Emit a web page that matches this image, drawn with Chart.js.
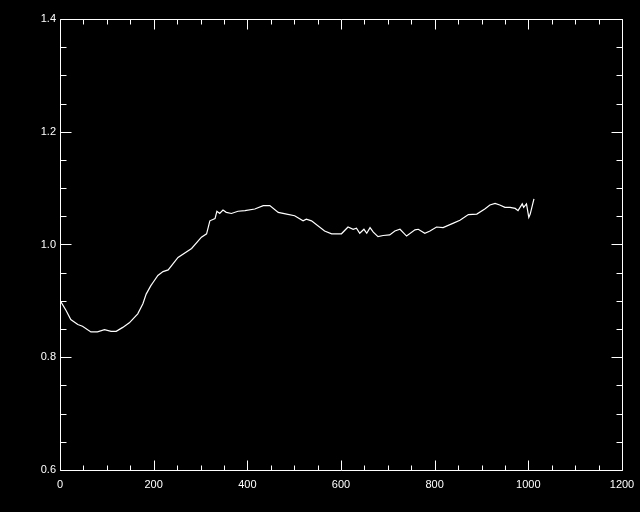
<!DOCTYPE html>
<html>
<head>
<meta charset="utf-8">
<script src="https://cdn.jsdelivr.net/npm/chart.js@4"></script>
<style>
  html, body { margin: 0; padding: 0; background: #000; }
  #wrap { width: 640px; height: 512px; }
</style>
</head>
<body>
<div id="wrap"><canvas id="plot" width="640" height="512"></canvas></div>
<script>
// curve
const xVals = [
  0, 13, 23, 38, 48, 66, 80, 95, 109, 120,
  134, 148, 166, 177, 184, 194, 199, 209, 220, 231,
  252, 281, 302, 313, 320, 331, 335, 341, 348, 355,
  366, 380, 395, 416, 434, 448, 466, 484, 501, 519,
  526, 537, 565, 580, 601, 615, 626, 633, 640, 649,
  655, 662, 669, 679, 690, 704, 715, 726, 740, 758,
  765, 779, 790, 804, 818, 840, 854, 872, 890, 907,
  918, 929, 939, 950, 961, 972, 978, 987, 990, 996,
  1001, 1004, 1012
];
const yVals = [
  0.901, 0.883, 0.867, 0.858, 0.855, 0.845, 0.845, 0.849, 0.846, 0.846,
  0.853, 0.861, 0.877, 0.895, 0.912, 0.927, 0.933, 0.945, 0.952, 0.955,
  0.977, 0.993, 1.013, 1.019, 1.042, 1.046, 1.059, 1.055, 1.061, 1.057,
  1.055, 1.059, 1.060, 1.063, 1.069, 1.069, 1.057, 1.054, 1.051, 1.042,
  1.045, 1.042, 1.024, 1.019, 1.019, 1.031, 1.027, 1.029, 1.020, 1.027,
  1.020, 1.030, 1.022, 1.014, 1.016, 1.017, 1.024, 1.027, 1.015, 1.026,
  1.027, 1.020, 1.024, 1.031, 1.030, 1.038, 1.043, 1.053, 1.054, 1.063,
  1.070, 1.073, 1.070, 1.066, 1.066, 1.064, 1.060, 1.072, 1.066, 1.072,
  1.048, 1.054, 1.081
];

const xRange = [0, 1200];
const yRange = [0.6, 1.4];
const xMajor = 200, xMinor = 50;
const yMajor = 0.2, yMinor = 0.05;

const points = xVals.map((x, i) => ({ x: x, y: yVals[i] }));

// IDL-style box with inward ticks on all four sides
const boxTicks = {
  id: "boxTicks",
  afterDraw(chart) {
    const ctx = chart.ctx;
    const a = chart.chartArea;
    const xs = chart.scales.x, ys = chart.scales.y;
    const L = Math.round(a.left) + 0.5, R = Math.round(a.right) + 0.5;
    const T = Math.round(a.top) + 0.5, B = Math.round(a.bottom) + 0.5;
    ctx.save();
    ctx.strokeStyle = "#fff";
    ctx.lineWidth = 1;
    ctx.beginPath();
    ctx.rect(L, T, R - L, B - T);
    const nx = Math.round((xRange[1] - xRange[0]) / xMinor);
    for (let i = 0; i <= nx; i++) {
      const v = xRange[0] + i * xMinor;
      const len = (i % (xMajor / xMinor) === 0) ? 10 : 5;
      const px = Math.round(xs.getPixelForValue(v)) + 0.5;
      ctx.moveTo(px, B); ctx.lineTo(px, B - len);
      ctx.moveTo(px, T); ctx.lineTo(px, T + len);
    }
    const ny = Math.round((yRange[1] - yRange[0]) / yMinor);
    for (let i = 0; i <= ny; i++) {
      const v = yRange[0] + i * yMinor;
      const len = (i % Math.round(yMajor / yMinor) === 0) ? 11 : 6;
      const py = Math.round(ys.getPixelForValue(v)) + 0.5;
      ctx.moveTo(L, py); ctx.lineTo(L + len, py);
      ctx.moveTo(R, py); ctx.lineTo(R - len, py);
    }
    ctx.stroke();
    ctx.restore();
  }
};

new Chart(document.getElementById("plot"), {
  type: "scatter",
  data: {
    datasets: [{
      data: points,
      showLine: true,
      borderColor: "#fff",
      borderWidth: 1.2,
      pointRadius: 0,
      tension: 0
    }]
  },
  options: {
    responsive: false,
    animation: false,
    layout: { padding: { top: 19, right: 18, left: 0, bottom: 0 } },
    plugins: { legend: { display: false }, tooltip: { enabled: false } },
    scales: {
      x: {
        type: "linear", min: xRange[0], max: xRange[1],
        grid: { display: false, drawTicks: false },
        border: { display: false },
        afterFit: s => { s.height = 42; s.paddingRight = 0; s.paddingLeft = 0; },
        ticks: {
          stepSize: xMajor, color: "#fff", padding: 8, maxRotation: 0,
          font: { family: "Liberation Sans, Arial, sans-serif", size: 11 },
          callback: v => String(v)
        }
      },
      y: {
        type: "linear", min: yRange[0], max: yRange[1],
        grid: { display: false, drawTicks: false },
        border: { display: false },
        afterFit: s => { s.width = 60; s.paddingTop = 0; s.paddingBottom = 0; },
        ticks: {
          stepSize: yMajor, color: "#fff", padding: 4,
          font: { family: "Liberation Sans, Arial, sans-serif", size: 11 },
          callback: v => Number(v).toFixed(1)
        }
      }
    }
  },
  plugins: [boxTicks]
});
</script>
</body>
</html>
